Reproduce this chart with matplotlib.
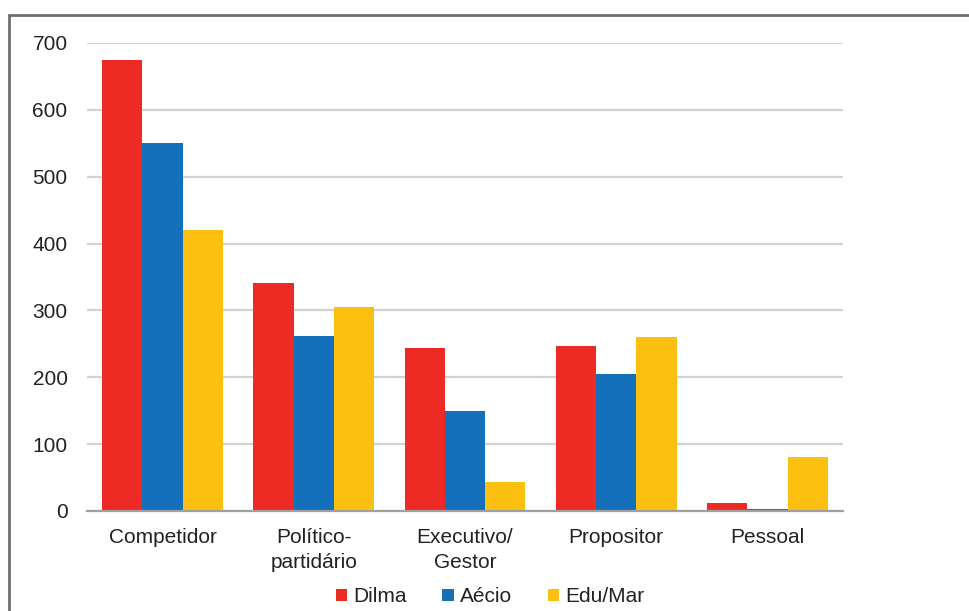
import numpy as np
import matplotlib.pyplot as plt
from matplotlib.patches import Rectangle

plt.rcParams['font.family'] = ['Liberation Sans', 'DejaVu Sans']

# data
categories = ['Competidor', 'Político-\npartidário', 'Executivo/\nGestor', 'Propositor', 'Pessoal']
series = ['Dilma', 'Aécio', 'Edu/Mar']
dilma = [675, 341, 244, 247, 12]
aecio = [550, 262, 150, 205, 3]
edu_mar = [420, 305, 43, 260, 81]
colors = ['#EE2A24', '#1570BC', '#FCC013']

fig = plt.figure(figsize=(9.7, 6.11), dpi=100)
ax = fig.add_axes([87 / 970, 1 - 511 / 611, 756 / 970, 468 / 611])

x = np.arange(len(categories))
w = 0.8 / 3
for i, (vals, name, c) in enumerate(zip([dilma, aecio, edu_mar], series, colors)):
    ax.bar(x + (i - 1) * w, vals, w, color=c, label=name, zorder=3)

ax.set_xlim(-0.5, len(categories) - 0.5)
ax.set_ylim(0, 700)
ax.set_yticks(range(0, 701, 100))
ax.set_xticks(x)
ax.set_xticklabels(categories, linespacing=1.4, va='top')
ax.tick_params(axis='both', length=0, labelsize=15, colors='#222222')
ax.tick_params(axis='y', pad=14)
ax.tick_params(axis='x', pad=12)
ax.yaxis.grid(True, color='#D2D2D2', linewidth=1.6, zorder=0)
for s in ['top', 'right', 'left']:
    ax.spines[s].set_visible(False)
ax.spines['bottom'].set_color('#A0A0A0')
ax.spines['bottom'].set_linewidth(1.6)
ax.spines['bottom'].set_zorder(4)

fig.legend(*ax.get_legend_handles_labels(), loc='center',
           bbox_to_anchor=(490 / 970, 1 - 597 / 611), ncol=3, frameon=False,
           fontsize=15, handlelength=0.55, handleheight=0.55, handletextpad=0.3,
           columnspacing=1.7, labelcolor='#222222', borderpad=0)

# outer frame
fig.patches.append(Rectangle((9 / 970, -0.1), 2, 1 - 15 / 611 + 0.1, transform=fig.transFigure,
                             fill=False, edgecolor='#6E6E6E', linewidth=2))

fig.savefig('out.png', dpi=100)
